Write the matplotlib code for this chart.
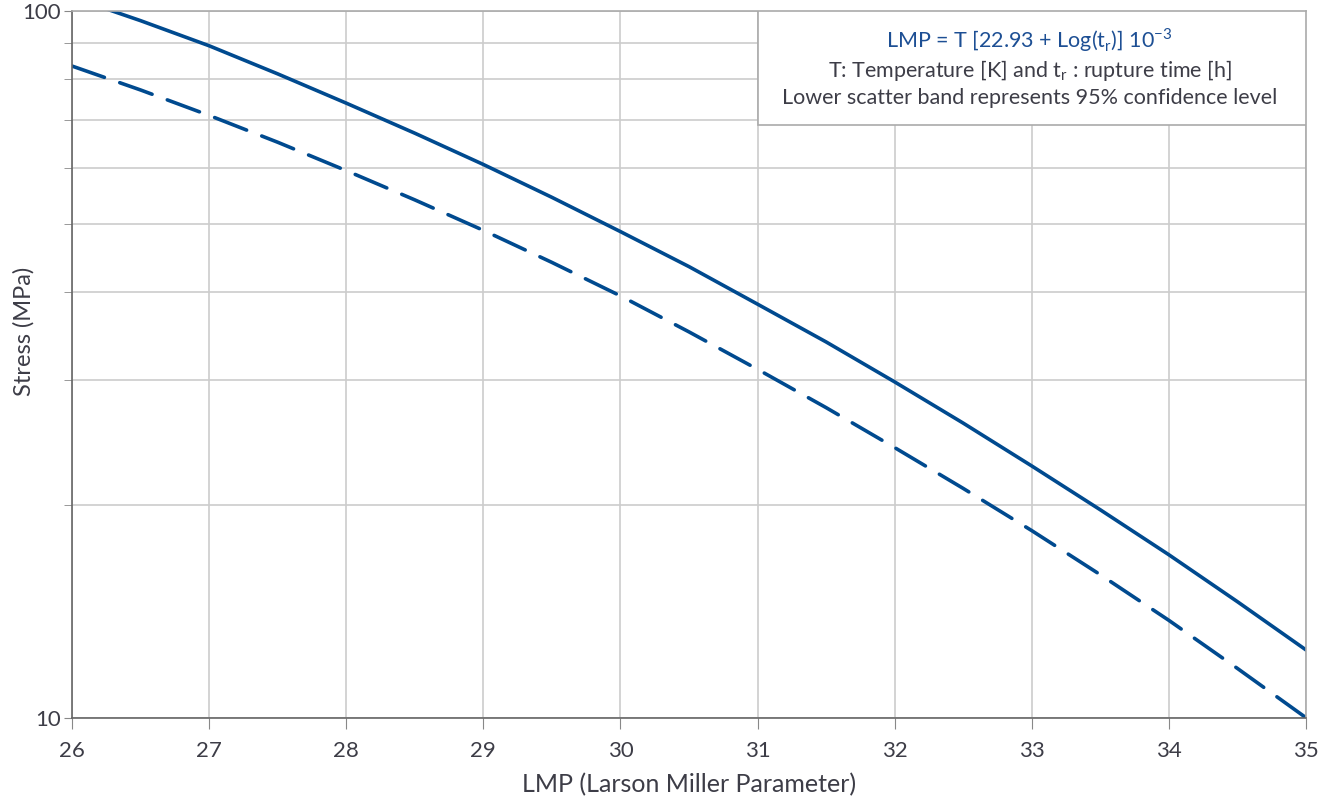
import numpy as np
import matplotlib
matplotlib.use('Agg')
import matplotlib.pyplot as plt
from matplotlib.patches import Rectangle
from matplotlib.ticker import FixedLocator, NullFormatter

plt.rcParams['font.family'] = ['Lato', 'DejaVu Sans']

# LMP values (x) and stress
lmp = [26, 26.5, 27, 27.5, 28, 28.5, 29, 29.5, 30, 30.5,
       31, 31.5, 32, 32.5, 33, 33.5, 34, 34.5, 35]
stress_mean = [104.5, 96.8, 89.2, 81.4, 74.0, 67.1, 60.6, 54.45, 48.7, 43.45,
               38.45, 34.0, 29.85, 26.1, 22.7, 19.68, 17.0, 14.59, 12.47]
stress_low = [83.5, 77.24, 71.1, 65.15, 59.4, 54.0, 48.9, 44.05, 39.5, 35.13,
              31.1, 27.45, 24.1, 21.1, 18.39, 15.93, 13.73, 11.74, 10.0]

xticks = [26, 27, 28, 29, 30, 31, 32, 33, 34, 35]
yticks_major = [10, 100]
yticks_minor = [20, 30, 40, 50, 60, 70, 80, 90]

blue = '#004a8f'
txt = '#3d3d47'

fig = plt.figure(figsize=(13.19, 8.09), dpi=100)
ax = fig.add_axes([0.0546, 0.1129, 0.9355, 0.8739])

ax.plot(lmp, stress_mean, color=blue, lw=2.6, solid_capstyle='round')
ax.plot(lmp, stress_low, color=blue, lw=2.6, dashes=(9.5, 4.5), dash_capstyle='round')

ax.set_yscale('log')
ax.set_xlim(26, 35)
ax.set_ylim(10, 100)
ax.set_xticks(xticks)
ax.yaxis.set_major_locator(FixedLocator(yticks_major))
ax.yaxis.set_minor_locator(FixedLocator(yticks_minor))
ax.yaxis.set_minor_formatter(NullFormatter())
ax.set_yticklabels([str(v) for v in yticks_major])

ax.grid(True, which='both', color='#cccccc', lw=1.2)
ax.set_axisbelow(True)

for s in ['left', 'bottom']:
    ax.spines[s].set_color('#666666')
    ax.spines[s].set_linewidth(1.2)
for s in ['top', 'right']:
    ax.spines[s].set_color('#aaaaaa')
    ax.spines[s].set_linewidth(1.2)

ax.tick_params(axis='x', which='major', length=8, color='#888888', labelsize=16,
               labelcolor=txt, pad=9)
ax.tick_params(axis='y', which='both', length=6, color='#888888', labelsize=16,
               labelcolor=txt, pad=2)

ax.set_xlabel('LMP (Larson Miller Parameter)', fontsize=18, color=txt)
ax.xaxis.set_label_coords(0.5, -0.078)
ax.xaxis.label.set_va('top')
ax.set_ylabel('Stress (MPa)', fontsize=17, color=txt)
ax.yaxis.set_label_coords(-0.030, 0.546)

# note box
ax.add_patch(Rectangle((0.556, 0.838), 0.444, 0.162, transform=ax.transAxes,
                       facecolor='white', edgecolor='#aaaaaa', lw=1.2, zorder=5))
ax.text(0.776, 0.9586, r'LMP = T [22.93 + Log(t$_\mathregular{r}$)] 10$^\mathregular{-3}$',
        transform=ax.transAxes, ha='center', va='center', fontsize=15.5, color='#1d4f94', zorder=6)
ax.text(0.776, 0.916, r'T: Temperature [K] and t$_\mathregular{r}$ : rupture time [h]',
        transform=ax.transAxes, ha='center', va='center', fontsize=15.5, color=txt, zorder=6)
ax.text(0.776, 0.8765, 'Lower scatter band represents 95% confidence level',
        transform=ax.transAxes, ha='center', va='center', fontsize=15.5, color=txt, zorder=6)

fig.savefig('out.png', dpi=100)
